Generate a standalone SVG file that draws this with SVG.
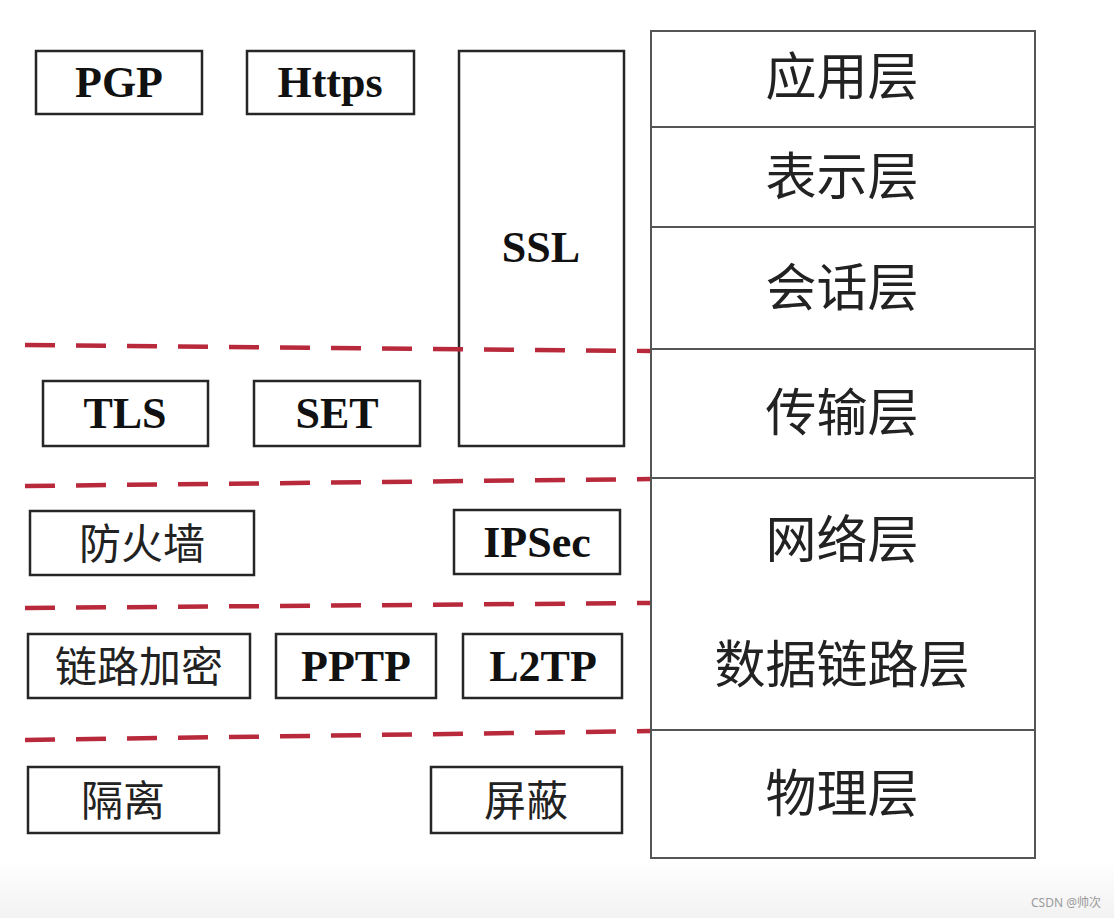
<svg xmlns="http://www.w3.org/2000/svg" width="1114" height="918" viewBox="0 0 1114 918">
<defs>
<linearGradient id="bg" x1="0" y1="0" x2="0" y2="1">
<stop offset="0" stop-color="#ffffff"/>
<stop offset="1" stop-color="#f2f2f2"/>
</linearGradient>
<style>
.box{fill:#fff;stroke:#262626;stroke-width:2.5}
.layer{fill:#fff;stroke:#555;stroke-width:2}
.div{stroke:#555;stroke-width:2;fill:none}
.lat{font-family:"Liberation Serif","Times New Roman",serif;font-weight:bold;font-size:44px;fill:#111;text-anchor:middle}
.cjk{font-family:"Noto Sans CJK SC","Noto Sans CJK TC",sans-serif;font-size:42px;fill:#222;text-anchor:middle;dominant-baseline:central}
.big{font-family:"Noto Sans CJK SC","Noto Sans CJK TC",sans-serif;font-size:51px;fill:#222;text-anchor:middle;dominant-baseline:central}
.dash{stroke:#b8293b;stroke-width:4.5;stroke-dasharray:30 21;fill:none}
.wm{font-family:"Noto Sans","Noto Sans CJK SC",sans-serif;font-size:12px;fill:#9a9a9a}
</style>
</defs>
<rect x="0" y="0" width="1114" height="918" fill="#fff"/>
<rect x="0" y="860" width="1114" height="58" fill="url(#bg)"/>

<g id="osi-stack">
<rect class="layer" x="651" y="31" width="384" height="827"/>
<line class="div" x1="651" y1="127" x2="1035" y2="127"/>
<line class="div" x1="651" y1="227" x2="1035" y2="227"/>
<line class="div" x1="651" y1="349" x2="1035" y2="349"/>
<line class="div" x1="651" y1="478" x2="1035" y2="478"/>
<line class="div" x1="651" y1="730" x2="1035" y2="730"/>
<text class="big" x="842" y="73">应用层</text>
<text class="big" x="842" y="173">表示层</text>
<text class="big" x="842" y="284">会话层</text>
<text class="big" x="842" y="409">传输层</text>
<text class="big" x="842" y="536">网络层</text>
<text class="big" x="842" y="661">数据链路层</text>
<text class="big" x="842" y="790">物理层</text>
</g>

<g id="ssl"><rect class="box" x="459" y="51" width="165" height="395"/><text class="lat" x="541" y="262">SSL</text></g>
<g id="pgp"><rect class="box" x="36" y="51" width="166" height="63"/><text class="lat" x="119" y="97">PGP</text></g>
<g id="https"><rect class="box" x="247" y="51" width="167" height="63"/><text class="lat" x="330" y="97">Https</text></g>
<g id="tls"><rect class="box" x="43" y="381" width="165" height="65"/><text class="lat" x="125" y="428">TLS</text></g>
<g id="set"><rect class="box" x="254" y="381" width="166" height="65"/><text class="lat" x="337" y="428">SET</text></g>
<g id="firewall"><rect class="box" x="30" y="511" width="224" height="64"/><text class="cjk" x="142" y="540">防火墙</text></g>
<g id="ipsec"><rect class="box" x="454" y="510" width="166" height="64"/><text class="lat" x="537" y="557">IPSec</text></g>
<g id="link-encrypt"><rect class="box" x="28" y="634" width="222" height="64"/><text class="cjk" x="139" y="663">链路加密</text></g>
<g id="pptp"><rect class="box" x="276" y="634" width="160" height="64"/><text class="lat" x="356" y="681">PPTP</text></g>
<g id="l2tp"><rect class="box" x="463" y="634" width="159" height="64"/><text class="lat" x="543" y="681">L2TP</text></g>
<g id="isolate"><rect class="box" x="28" y="767" width="191" height="66"/><text class="cjk" x="123" y="797">隔离</text></g>
<g id="shield"><rect class="box" x="431" y="767" width="191" height="66"/><text class="cjk" x="526" y="797">屏蔽</text></g>

<g id="connectors">
<line class="dash" x1="25" y1="345" x2="650" y2="351"/>
<line class="dash" x1="25" y1="486" x2="650" y2="479"/>
<line class="dash" x1="25" y1="608" x2="650" y2="603"/>
<line class="dash" x1="25" y1="740" x2="650" y2="731"/>
</g>

<text class="wm" x="1031" y="907">CSDN @帅次</text>
</svg>
